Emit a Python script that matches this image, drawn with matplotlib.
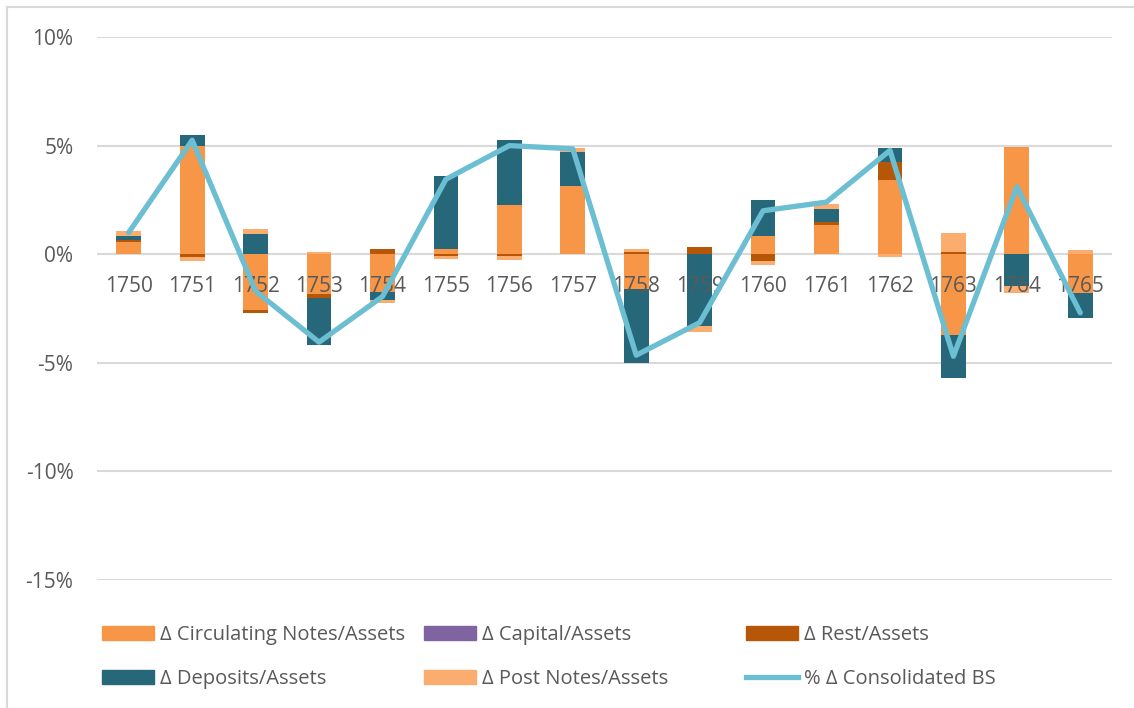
import numpy as np
import matplotlib
matplotlib.use("Agg")
import matplotlib.pyplot as plt
import matplotlib.transforms as mtransforms
from matplotlib.patches import Patch
from matplotlib.lines import Line2D

plt.rcParams['font.family'] = ['Open Sans', 'DejaVu Sans']

# Data (percentage points)
years = ['1750', '1751', '1752', '1753', '1754', '1755', '1756', '1757',
         '1758', '1759', '1760', '1761', '1762', '1763', '1764', '1765']
circ_notes = [0.58, 5.00, -2.55, -1.85, -1.75, 0.23, 2.27, 3.13,
              -1.60, 0.00, 0.85, 1.35, 3.43, -3.70, 4.92, -1.78]
capital = [0.0] * 16
rest = [0.07, -0.12, -0.18, -0.15, 0.23, -0.10, -0.10, 0.00,
        0.08, 0.33, -0.30, 0.15, 0.80, 0.08, 0.00, 0.00]
deposits = [0.21, 0.50, 0.95, -2.20, -0.38, 3.35, 3.00, 1.57,
            -3.40, -3.30, 1.64, 0.58, 0.66, -2.00, -1.45, -1.15]
post_notes = [0.22, -0.20, 0.23, 0.08, -0.12, -0.10, -0.15, 0.17,
              0.15, -0.30, -0.20, 0.22, -0.15, 0.90, -0.35, 0.20]
consolidated = [1.00, 5.25, -1.70, -4.05, -1.95, 3.45, 5.00, 4.85,
                -4.65, -3.15, 2.00, 2.40, 4.78, -4.70, 3.10, -2.70]

series = [
    ('Δ Circulating Notes/Assets', circ_notes, '#F79646'),
    ('Δ Capital/Assets', capital, '#8064A2'),
    ('Δ Rest/Assets', rest, '#B65708'),
    ('Δ Deposits/Assets', deposits, '#26687A'),
    ('Δ Post Notes/Assets', post_notes, '#FAAD6E'),
]
line_color = '#6CBED2'
text_color = '#595959'
grid_color = '#D9D9D9'

W, H = 1134, 708
fig = plt.figure(figsize=(W / 100, H / 100), dpi=100)
ax = fig.add_axes([97 / W, 1 - 580 / H, (1112 - 97) / W, (580 - 37) / H])

x = np.arange(len(years))
pos_bottom = np.zeros(len(years))
neg_bottom = np.zeros(len(years))
for name, vals, color in series:
    v = np.array(vals, dtype=float)
    bottom = np.where(v >= 0, pos_bottom, neg_bottom)
    ax.bar(x, v, width=0.39, bottom=bottom, color=color, zorder=2)
    pos_bottom += np.where(v >= 0, v, 0)
    neg_bottom += np.where(v < 0, v, 0)

ax.plot(x, consolidated, color=line_color, lw=3.8, zorder=4,
        solid_joinstyle='round', solid_capstyle='round')

ax.set_xlim(-0.5, len(years) - 0.5)
ax.set_ylim(-15, 10)
yt = [-15, -10, -5, 0, 5, 10]
ax.set_yticks(yt)
ax.set_yticklabels(['%d%%' % t for t in yt])
ax.yaxis.grid(True, color=grid_color, lw=1.5, zorder=0)
ax.set_axisbelow(True)
for s in ax.spines.values():
    s.set_visible(False)
ax.set_xticks([])
ax.tick_params(axis='y', length=0, pad=17, labelsize=15, colors=text_color)

# category labels sit just under the zero line, above the bars, below the line
lab_tr = mtransforms.offset_copy(ax.transData, fig=fig, y=-16, units='points')
for i, yr in enumerate(years):
    ax.text(i, 0, yr, transform=lab_tr, ha='center', va='top', fontsize=15,
            color=text_color, zorder=3)

# Legend: three columns placed individually
handles = [Patch(color=c, label=n) for n, _, c in series]
handles.append(Line2D([], [], color=line_color, lw=3.8,
                      label='% Δ Consolidated BS'))
cols = [[handles[0], handles[3]], [handles[1], handles[4]],
        [handles[2], handles[5]]]
col_x = [94, 416, 738]
for hs, cx in zip(cols, col_x):
    fig.legend(handles=hs, loc='upper left',
               bbox_to_anchor=(cx / W, 1 - 617 / H), frameon=False,
               fontsize=14.5, labelcolor=text_color, handlelength=2.6,
               handleheight=0.7, handletextpad=0.3, labelspacing=1.2,
               borderaxespad=0)

# chart border (left and top)
fig.add_artist(Line2D([7 / W, 7 / W], [0, 1 - 7 / H], color=grid_color,
                      lw=1.5, transform=fig.transFigure))
fig.add_artist(Line2D([7 / W, 1], [1 - 7 / H, 1 - 7 / H], color=grid_color,
                      lw=1.5, transform=fig.transFigure))

fig.savefig('out.png', dpi=100)
